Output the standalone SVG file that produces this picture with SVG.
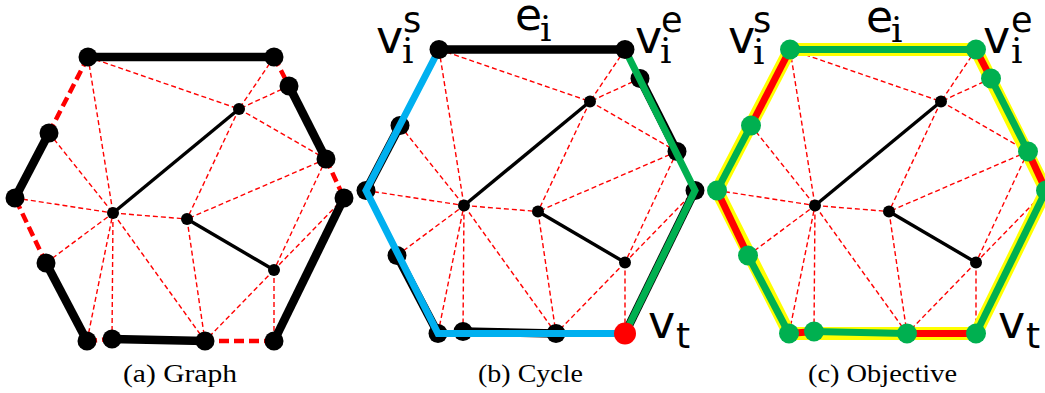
<svg xmlns="http://www.w3.org/2000/svg" width="1045" height="393" viewBox="0 0 1045 393">
<style>
.mesh{stroke:#ff0000;stroke-width:1.4;stroke-dasharray:5 3;fill:none}
.inner{stroke:#000;stroke-width:3.4;fill:none}
.hull{stroke:#000;stroke-width:8.5;fill:none}
.miss{stroke:#ff0000;stroke-width:4.5;stroke-dasharray:10 5;fill:none}
.blue{stroke:#00b0f0;stroke-width:7;fill:none;stroke-linejoin:miter}
.green{stroke:#00b050;stroke-width:7;fill:none;stroke-linejoin:miter}
.red{stroke:#ff0000;stroke-width:7;fill:none}
.yel{stroke:#ffff00;stroke-width:13;fill:none;stroke-linejoin:miter}
.nb{fill:#000}
.ng{fill:#00b050}
.nr{fill:#ff0000}
.lab{font-family:"DejaVu Sans",sans-serif;fill:#000}
.sub{font-family:"DejaVu Serif",serif;fill:#000}
.cap{font-family:"Liberation Serif","Times New Roman",serif;font-size:25px;fill:#000}
</style>

<!-- Panel (a) -->
<g id="panel-a">
  <g id="a-connectors">
    <g class="mesh">
      <line x1="88" y1="57" x2="239" y2="109"/>
      <line x1="88" y1="57" x2="113" y2="213"/>
      <line x1="49" y1="133" x2="113" y2="213"/>
      <line x1="15" y1="198" x2="113" y2="213"/>
      <line x1="46" y1="263" x2="113" y2="213"/>
      <line x1="87" y1="341" x2="113" y2="213"/>
      <line x1="112" y1="339" x2="113" y2="213"/>
      <line x1="205" y1="341" x2="113" y2="213"/>
      <line x1="113" y1="213" x2="187" y2="219"/>
      <line x1="274" y1="57" x2="239" y2="109"/>
      <line x1="289" y1="86" x2="239" y2="109"/>
      <line x1="239" y1="109" x2="326" y2="159"/>
      <line x1="239" y1="109" x2="187" y2="219"/>
      <line x1="326" y1="159" x2="187" y2="219"/>
      <line x1="326" y1="159" x2="274" y2="270"/>
      <line x1="344" y1="198" x2="274" y2="270"/>
      <line x1="187" y1="219" x2="205" y2="341"/>
      <line x1="274" y1="270" x2="205" y2="341"/>
      <line x1="274" y1="270" x2="274" y2="341"/>
    </g>
    <g class="inner">
      <line x1="113" y1="213" x2="239" y2="109"/>
      <line x1="187" y1="219" x2="274" y2="270"/>
    </g>
    <g class="hull">
      <line x1="88" y1="57" x2="274" y2="57"/>
      <line x1="289" y1="86" x2="326" y2="159"/>
      <line x1="344" y1="198" x2="274" y2="341"/>
      <line x1="205" y1="341" x2="112" y2="339"/>
      <line x1="87" y1="341" x2="46" y2="263"/>
      <line x1="15" y1="198" x2="49" y2="133"/>
    </g>
    <g class="miss">
      <line x1="274" y1="57" x2="289" y2="86"/>
      <line x1="326" y1="159" x2="344" y2="198"/>
      <line x1="274" y1="341" x2="205" y2="341"/>
      <line x1="112" y1="339" x2="87" y2="341"/>
      <line x1="46" y1="263" x2="15" y2="198"/>
      <line x1="49" y1="133" x2="88" y2="57"/>
    </g>
  </g>
  <g id="a-nA"><circle class="nb" cx="88" cy="57" r="9.5"/></g>
  <g id="a-nB"><circle class="nb" cx="274" cy="57" r="9.5"/></g>
  <g id="a-nC"><circle class="nb" cx="289" cy="86" r="9.5"/></g>
  <g id="a-nD"><circle class="nb" cx="326" cy="159" r="9.5"/></g>
  <g id="a-nE"><circle class="nb" cx="344" cy="198" r="9.5"/></g>
  <g id="a-nG"><circle class="nb" cx="274" cy="341" r="9.5"/></g>
  <g id="a-nH"><circle class="nb" cx="205" cy="341" r="9.5"/></g>
  <g id="a-nI"><circle class="nb" cx="112" cy="339" r="9.5"/></g>
  <g id="a-nJ"><circle class="nb" cx="87" cy="341" r="9.5"/></g>
  <g id="a-nK"><circle class="nb" cx="46" cy="263" r="9.5"/></g>
  <g id="a-nL"><circle class="nb" cx="15" cy="198" r="9.5"/></g>
  <g id="a-nM"><circle class="nb" cx="49" cy="133" r="9.5"/></g>
  <g id="a-nP1"><circle class="nb" cx="239" cy="109" r="6"/></g>
  <g id="a-nP2"><circle class="nb" cx="113" cy="213" r="6"/></g>
  <g id="a-nP3"><circle class="nb" cx="187" cy="219" r="6"/></g>
  <g id="a-nP4"><circle class="nb" cx="274" cy="270" r="6"/></g>
  <text class="cap" x="123" y="382" textLength="114" lengthAdjust="spacingAndGlyphs">(a) Graph</text>
</g>

<!-- Panel (b) -->
<g id="panel-b">
  <g transform="translate(351,-7.5)">
    <g id="b-connectors">
      <g class="mesh">
        <line x1="88" y1="57" x2="239" y2="109"/>
        <line x1="88" y1="57" x2="113" y2="213"/>
        <line x1="49" y1="133" x2="113" y2="213"/>
        <line x1="15" y1="198" x2="113" y2="213"/>
        <line x1="46" y1="263" x2="113" y2="213"/>
        <line x1="87" y1="341" x2="113" y2="213"/>
        <line x1="112" y1="339" x2="113" y2="213"/>
        <line x1="205" y1="341" x2="113" y2="213"/>
        <line x1="113" y1="213" x2="187" y2="219"/>
        <line x1="274" y1="57" x2="239" y2="109"/>
        <line x1="289" y1="86" x2="239" y2="109"/>
        <line x1="239" y1="109" x2="326" y2="159"/>
        <line x1="239" y1="109" x2="187" y2="219"/>
        <line x1="326" y1="159" x2="187" y2="219"/>
        <line x1="326" y1="159" x2="274" y2="270"/>
        <line x1="344" y1="198" x2="274" y2="270"/>
        <line x1="187" y1="219" x2="205" y2="341"/>
        <line x1="274" y1="270" x2="205" y2="341"/>
        <line x1="274" y1="270" x2="274" y2="341"/>
      </g>
      <g class="inner">
        <line x1="113" y1="213" x2="239" y2="109"/>
        <line x1="187" y1="219" x2="274" y2="270"/>
      </g>
      <g class="hull">
        <line x1="88" y1="57" x2="274" y2="57"/>
        <line x1="289" y1="86" x2="326" y2="159"/>
        <line x1="344" y1="198" x2="274" y2="341"/>
        <line x1="205" y1="341" x2="112" y2="339"/>
        <line x1="87" y1="341" x2="46" y2="263"/>
        <line x1="15" y1="198" x2="49" y2="133"/>
      </g>
    </g>
    <g id="b-nC"><circle class="nb" cx="289" cy="86" r="9.5"/></g>
    <g id="b-nD"><circle class="nb" cx="326" cy="159" r="9.5"/></g>
    <g id="b-nE"><circle class="nb" cx="344" cy="198" r="9.5"/></g>
    <g id="b-nH"><circle class="nb" cx="205" cy="341" r="9.5"/></g>
    <g id="b-nI"><circle class="nb" cx="112" cy="339" r="9.5"/></g>
    <g id="b-nJ"><circle class="nb" cx="87" cy="341" r="9.5"/></g>
    <g id="b-nK"><circle class="nb" cx="46" cy="263" r="9.5"/></g>
    <g id="b-nL"><circle class="nb" cx="15" cy="198" r="9.5"/></g>
    <g id="b-nM"><circle class="nb" cx="49" cy="133" r="9.5"/></g>
    <g id="b-nP1"><circle class="nb" cx="239" cy="109" r="6"/></g>
    <g id="b-nP2"><circle class="nb" cx="113" cy="213" r="6"/></g>
    <g id="b-nP3"><circle class="nb" cx="187" cy="219" r="6"/></g>
    <g id="b-nP4"><circle class="nb" cx="274" cy="270" r="6"/></g>
    <g id="b-cycle">
      <polyline class="blue" points="88,57 15,198 87,341 274,341"/>
      <polyline class="green" points="274,57 344,198 274,341"/>
    </g>
    <g id="b-nA"><circle class="nb" cx="88" cy="57" r="9.5"/></g>
    <g id="b-nB"><circle class="nb" cx="274" cy="57" r="9.5"/></g>
    <g id="b-nG"><circle class="nr" cx="274" cy="341" r="11"/></g>
  </g>
  <g id="b-labels">
    <text class="lab" x="376" y="53" font-size="46">v</text>
    <text class="lab" x="403" y="32" font-size="35">s</text>
    <text class="sub" x="402" y="63" font-size="36">i</text>
    <text class="lab" x="515" y="30" font-size="44">e</text>
    <text class="sub" x="540" y="41" font-size="36">i</text>
    <text class="lab" x="635" y="53" font-size="46">v</text>
    <text class="lab" x="661" y="32" font-size="35">e</text>
    <text class="sub" x="660" y="63" font-size="36">i</text>
    <text class="lab" x="648" y="338" font-size="46">v</text>
    <text class="lab" x="676" y="348" font-size="36">t</text>
  </g>
  <text class="cap" x="478" y="382" textLength="105" lengthAdjust="spacingAndGlyphs">(b) Cycle</text>
</g>

<!-- Panel (c) -->
<g id="panel-c">
  <g transform="translate(702,-7.5)">
    <g id="c-connectors">
      <g class="mesh">
        <line x1="88" y1="57" x2="239" y2="109"/>
        <line x1="88" y1="57" x2="113" y2="213"/>
        <line x1="49" y1="133" x2="113" y2="213"/>
        <line x1="15" y1="198" x2="113" y2="213"/>
        <line x1="46" y1="263" x2="113" y2="213"/>
        <line x1="87" y1="341" x2="113" y2="213"/>
        <line x1="112" y1="339" x2="113" y2="213"/>
        <line x1="205" y1="341" x2="113" y2="213"/>
        <line x1="113" y1="213" x2="187" y2="219"/>
        <line x1="274" y1="57" x2="239" y2="109"/>
        <line x1="289" y1="86" x2="239" y2="109"/>
        <line x1="239" y1="109" x2="326" y2="159"/>
        <line x1="239" y1="109" x2="187" y2="219"/>
        <line x1="326" y1="159" x2="187" y2="219"/>
        <line x1="326" y1="159" x2="274" y2="270"/>
        <line x1="344" y1="198" x2="274" y2="270"/>
        <line x1="187" y1="219" x2="205" y2="341"/>
        <line x1="274" y1="270" x2="205" y2="341"/>
        <line x1="274" y1="270" x2="274" y2="341"/>
      </g>
      <g class="inner">
        <line x1="113" y1="213" x2="239" y2="109"/>
        <line x1="187" y1="219" x2="274" y2="270"/>
      </g>
      <polygon class="yel" points="88,57 274,57 344,198 274,341 87,341 15,198"/>
      <g class="red">
        <line x1="274" y1="57" x2="289" y2="86"/>
        <line x1="326" y1="159" x2="344" y2="198"/>
        <line x1="274" y1="341" x2="205" y2="341"/>
        <line x1="112" y1="339" x2="87" y2="341"/>
        <line x1="46" y1="263" x2="15" y2="198"/>
        <line x1="49" y1="133" x2="88" y2="57"/>
      </g>
      <g class="green">
        <line x1="88" y1="57" x2="274" y2="57"/>
        <line x1="289" y1="86" x2="326" y2="159"/>
        <line x1="344" y1="198" x2="274" y2="341"/>
        <line x1="205" y1="341" x2="112" y2="339"/>
        <line x1="87" y1="341" x2="46" y2="263"/>
        <line x1="15" y1="198" x2="49" y2="133"/>
      </g>
    </g>
    <g id="c-nA"><circle class="ng" cx="88" cy="57" r="10"/></g>
    <g id="c-nB"><circle class="ng" cx="274" cy="57" r="10"/></g>
    <g id="c-nC"><circle class="ng" cx="289" cy="86" r="10"/></g>
    <g id="c-nD"><circle class="ng" cx="326" cy="159" r="10"/></g>
    <g id="c-nE"><circle class="ng" cx="344" cy="198" r="10"/></g>
    <g id="c-nG"><circle class="ng" cx="274" cy="341" r="10"/></g>
    <g id="c-nH"><circle class="ng" cx="205" cy="341" r="10"/></g>
    <g id="c-nI"><circle class="ng" cx="112" cy="339" r="10"/></g>
    <g id="c-nJ"><circle class="ng" cx="87" cy="341" r="10"/></g>
    <g id="c-nK"><circle class="ng" cx="46" cy="263" r="10"/></g>
    <g id="c-nL"><circle class="ng" cx="15" cy="198" r="10"/></g>
    <g id="c-nM"><circle class="ng" cx="49" cy="133" r="10"/></g>
    <g id="c-nP1"><circle class="nb" cx="239" cy="109" r="6"/></g>
    <g id="c-nP2"><circle class="nb" cx="113" cy="213" r="6"/></g>
    <g id="c-nP3"><circle class="nb" cx="187" cy="219" r="6"/></g>
    <g id="c-nP4"><circle class="nb" cx="274" cy="270" r="6"/></g>
  </g>
  <g id="c-labels">
    <text class="lab" x="728" y="53" font-size="46">v</text>
    <text class="lab" x="753" y="32" font-size="35">s</text>
    <text class="sub" x="753" y="64" font-size="36">i</text>
    <text class="lab" x="866" y="32" font-size="44">e</text>
    <text class="sub" x="891" y="42" font-size="36">i</text>
    <text class="lab" x="983" y="53" font-size="46">v</text>
    <text class="lab" x="1011" y="32" font-size="35">e</text>
    <text class="sub" x="1011" y="63" font-size="36">i</text>
    <text class="lab" x="998" y="338" font-size="46">v</text>
    <text class="lab" x="1026" y="348" font-size="36">t</text>
  </g>
  <text class="cap" x="808" y="382" textLength="149" lengthAdjust="spacingAndGlyphs">(c) Objective</text>
</g>
</svg>
